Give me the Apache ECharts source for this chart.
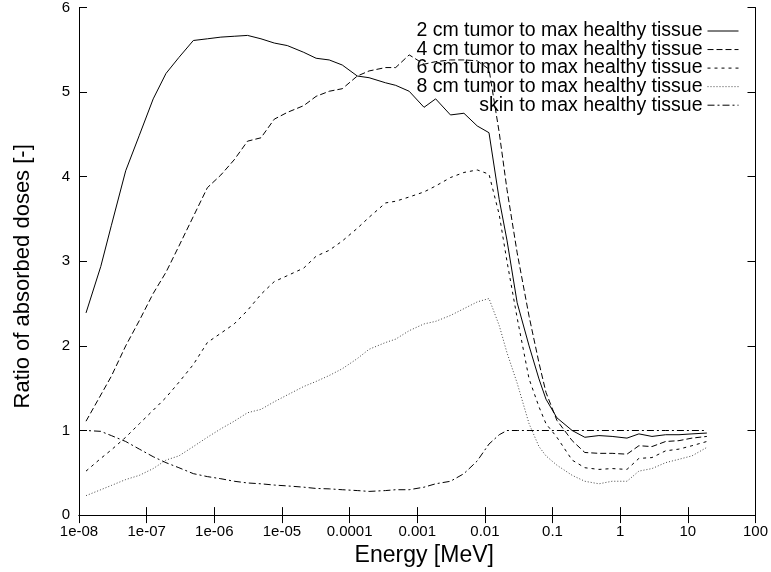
<!DOCTYPE html>
<html>
<head>
<meta charset="utf-8">
<script src="https://cdn.jsdelivr.net/npm/echarts@6/dist/echarts.min.js"></script>
<style>
html,body{margin:0;padding:0;background:#fff;}
#chart{width:771px;height:572px;}
</style>
</head>
<body>
<div id="chart"></div>
<script>
// Energy grid [MeV]
var energy = [1e-8, 1.27e-8, 2.1e-8, 3.0e-8, 4.9e-8, 7.8e-8, 1.25e-7, 1.93e-7, 3.0e-7, 4.9e-7,
  7.9e-7, 1.25e-6, 1.97e-6, 3.1e-6, 4.9e-6, 7.7e-6, 1.2e-5, 2.1e-5, 3.2e-5, 5.0e-5,
  7.8e-5, 1.3e-4, 1.94e-4, 3.4e-4, 4.8e-4, 7.6e-4, 1.26e-3, 1.87e-3, 3.1e-3, 4.9e-3,
  7.7e-3, 1.15e-2, 1.63e-2, 2.12e-2, 3.0e-2, 4.5e-2, 6.3e-2, 8.0e-2, 0.116, 0.195,
  0.30, 0.485, 0.76, 1.26, 1.89, 2.95, 4.7, 7.4, 11.5, 19.1];

var tumor2 = [null, 2.39, 2.94, 3.42, 4.07, 4.49, 4.92, 5.22, 5.41, 5.61,
  5.63, 5.65, 5.66, 5.67, 5.63, 5.58, 5.55, 5.47, 5.40, 5.38,
  5.32, 5.19, 5.17, 5.11, 5.08, 5.01, 4.82, 4.92, 4.73, 4.75,
  4.60, 4.52, 3.73, 3.25, 2.51, 2.00, 1.61, 1.37, 1.15, 1.00,
  0.92, 0.94, 0.93, 0.91, 0.96, 0.93, 0.95, 0.95, 0.96, 0.97];

var tumor4 = [null, 1.11, 1.42, 1.64, 2.00, 2.30, 2.62, 2.87, 3.18, 3.53,
  3.87, 4.02, 4.20, 4.42, 4.46, 4.68, 4.76, 4.84, 4.95, 5.01,
  5.04, 5.19, 5.25, 5.29, 5.29, 5.44, 5.33, 5.36, 5.38, 5.38,
  5.37, 5.27, 4.52, 3.85, 3.10, 2.35, 1.80, 1.45, 1.12, 0.88,
  0.74, 0.73, 0.73, 0.72, 0.82, 0.81, 0.87, 0.88, 0.91, 0.93];

var tumor6 = [null, 0.52, 0.67, 0.77, 0.92, 1.08, 1.24, 1.39, 1.57, 1.78,
  2.04, 2.15, 2.26, 2.42, 2.61, 2.76, 2.83, 2.92, 3.06, 3.13,
  3.24, 3.39, 3.52, 3.69, 3.71, 3.76, 3.82, 3.89, 3.99, 4.05,
  4.08, 4.03, 3.55, 3.00, 2.33, 1.61, 1.28, 1.08, 0.92, 0.65,
  0.56, 0.54, 0.55, 0.54, 0.67, 0.68, 0.76, 0.78, 0.82, 0.87];

var tumor8 = [null, 0.23, 0.30, 0.35, 0.42, 0.47, 0.55, 0.65, 0.70, 0.81,
  0.92, 1.02, 1.11, 1.21, 1.25, 1.34, 1.42, 1.52, 1.58, 1.65,
  1.73, 1.85, 1.96, 2.04, 2.08, 2.18, 2.26, 2.29, 2.36, 2.44,
  2.52, 2.56, 2.24, 1.92, 1.56, 1.08, 0.81, 0.70, 0.59, 0.47,
  0.40, 0.37, 0.40, 0.40, 0.52, 0.55, 0.62, 0.66, 0.70, 0.80];

var skin = [1.00, 1.00, 0.99, 0.94, 0.87, 0.78, 0.69, 0.62, 0.56, 0.49,
  0.455, 0.43, 0.40, 0.38, 0.37, 0.355, 0.345, 0.33, 0.315, 0.31,
  0.30, 0.29, 0.28, 0.29, 0.30, 0.30, 0.33, 0.37, 0.40, 0.49,
  0.64, 0.84, 0.95, 1.00, 1.00, 1.00, 1.00, 1.00, 1.00, 1.00,
  1.00, 1.00, 1.00, 1.00, 1.00, 1.00, 1.00, 1.00, 1.00, 1.00];

var seriesNames = ['2 cm tumor to max healthy tissue', '4 cm tumor to max healthy tissue',
  '6 cm tumor to max healthy tissue', '8 cm tumor to max healthy tissue', 'skin to max healthy tissue'];

var xTickLabels = ['1e-08', '1e-07', '1e-06', '1e-05', '0.0001', '0.001', '0.01', '0.1', '1', '10', '100'];
var yTickLabels = ['0', '1', '2', '3', '4', '5', '6'];

function pairs(vals) {
  var out = [];
  for (var i = 0; i < energy.length; i++) {
    if (vals[i] !== null) out.push([energy[i], vals[i]]);
  }
  return out;
}

var FONT = 'Liberation Sans, Arial, Helvetica, sans-serif';
var styles = [
  {type: 'solid', color: '#000'},
  {type: [6, 3], color: '#000'},
  {type: [3, 4], color: '#000'},
  {type: [1, 2], color: '#444'},
  {type: [7, 3, 2, 3], color: '#000'}
];
var allData = [tumor2, tumor4, tumor6, tumor8, skin];

var series = allData.map(function (d, i) {
  return {
    name: seriesNames[i],
    type: 'line',
    data: pairs(d),
    symbol: 'none',
    showSymbol: false,
    animation: false,
    lineStyle: {width: 1, color: styles[i].color, type: styles[i].type},
    itemStyle: {color: styles[i].color}
  };
});

var chart = echarts.init(document.getElementById('chart'), null, {renderer: 'canvas'});
var logAxisCommon = {
  type: 'log', logBase: 10, min: 1e-8, max: 100, interval: 1, splitNumber: 10,
  axisLine: {show: true, lineStyle: {color: '#000', width: 1}},
  axisTick: {show: true, inside: true, length: 8, interval: 0, lineStyle: {color: '#000'}},
  minorTick: {show: false},
  splitLine: {show: false}
};
var valAxisCommon = {
  type: 'value', min: 0, max: 6, interval: 1,
  axisLine: {show: true, lineStyle: {color: '#000', width: 1}},
  axisTick: {show: true, inside: true, length: 8, lineStyle: {color: '#000'}},
  splitLine: {show: false}
};

chart.setOption({
  animation: false,
  backgroundColor: '#fff',
  textStyle: {fontFamily: FONT},
  grid: {left: 79, right: 15, top: 7, bottom: 56, containLabel: false},
  legend: {
    orient: 'vertical',
    right: 27, top: 16,
    align: 'right',
    icon: 'inherit',
    itemWidth: 31, itemHeight: 14, itemGap: -1.45,
    itemStyle: {opacity: 0, borderWidth: 0},
    lineStyle: {width: 1},
    textStyle: {fontSize: 19.5, color: '#000', fontFamily: FONT, lineHeight: 18.75},
    data: seriesNames
  },
  xAxis: [
    Object.assign({}, logAxisCommon, {
      position: 'bottom',
      name: 'Energy [MeV]', nameLocation: 'middle', nameGap: 22,
      nameTextStyle: {fontSize: 23, color: '#000', fontFamily: FONT, padding: [0, 0, 0, 14]},
      axisLabel: {
        color: '#000', fontSize: 15, margin: 9, fontFamily: FONT, interval: 0, hideOverlap: false,
        formatter: function (v) {
          var k = Math.round(Math.log(v) / Math.LN10) + 8;
          return xTickLabels[k] !== undefined ? xTickLabels[k] : '';
        }
      }
    }),
    Object.assign({}, logAxisCommon, {
      position: 'top',
      axisLabel: {show: false}
    })
  ],
  yAxis: [
    Object.assign({}, valAxisCommon, {
      position: 'left',
      name: 'Ratio of absorbed doses [-]', nameLocation: 'middle', nameGap: 45,
      nameRotate: 90,
      nameTextStyle: {fontSize: 22, color: '#000', fontFamily: FONT, padding: [0, 30, 0, 0]},
      axisLabel: {
        color: '#000', fontSize: 15, margin: 9, fontFamily: FONT,
        formatter: function (v) { return yTickLabels[Math.round(v)]; }
      }
    }),
    Object.assign({}, valAxisCommon, {
      position: 'right',
      axisLabel: {show: false}
    })
  ],
  series: series
});
</script>
</body>
</html>
